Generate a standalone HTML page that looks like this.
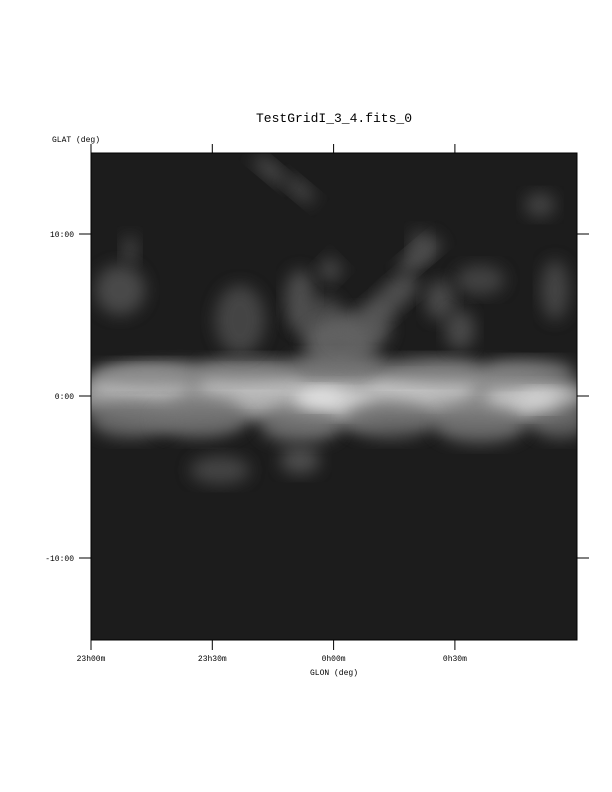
<!DOCTYPE html>
<html><head><meta charset="utf-8"><style>
body{margin:0;background:#fff;width:612px;height:792px;overflow:hidden}
svg{display:block}
text{font-family:"Liberation Mono",monospace;fill:#000}
</style></head><body>
<svg id="chart" width="612" height="792" viewBox="0 0 612 792">
<defs>
<filter id="blur" x="-30%" y="-30%" width="160%" height="160%"><feGaussianBlur stdDeviation="8"/></filter>
<clipPath id="clip"><rect x="91" y="153" width="486" height="487"/></clipPath>
</defs>
<text x="334" y="122" font-size="13" text-anchor="middle">TestGridI_3_4.fits_0</text>
<text x="52" y="142" font-size="8">GLAT (deg)</text>
<text x="334" y="675" font-size="8" text-anchor="middle">GLON (deg)</text>
<rect x="91" y="153" width="486" height="487" fill="#1c1c1c"/>
<g id="emission" clip-path="url(#clip)"></g>
<rect x="91" y="153" width="486" height="487" fill="none" stroke="#000" stroke-width="1"/>
<g id="axes"></g>
</svg>
<script>
// blob data: x, y, radius x, radius y, gray level, rotation (deg)
const blobX=[180,334,480,140,250,334,420,530,150,250,340,430,530,130,200,300,390,480,560,320,540,120,240,300,320,340,360,380,400,420,270,300,420,440,540,555,130,330,460,480,300,220];
const blobY=[396,396,396,385,385,400,390,400,375,370,365,370,372,420,420,425,420,425,420,398,400,290,320,300,320,345,330,310,290,255,170,190,245,300,205,290,250,270,330,280,460,470];
const blobRX=[110,100,110,50,55,45,55,45,60,50,50,50,45,40,45,40,45,45,30,22,20,25,25,15,20,35,30,15,14,10,20,18,10,15,15,14,8,12,15,25,20,30];
const blobRY=[30,30,30,15,15,15,15,15,12,12,12,12,12,18,18,18,18,18,18,10,10,25,35,30,25,25,20,20,20,25,8,8,15,20,12,30,15,12,20,15,14,14];
const blobG=[170,175,170,200,195,220,200,210,130,130,130,130,130,110,110,120,110,115,110,230,215,85,80,90,85,110,100,95,90,95,85,80,80,85,80,80,75,80,85,75,90,80];
const blobRot=[0,0,0,0,0,0,0,0,0,0,0,0,0,0,0,0,0,0,0,0,0,0,0,0,55,0,0,50,50,50,40,40,0,0,0,0,0,45,0,0,0,0];
const tickXLabels=["23h00m","23h30m","0h00m","0h30m"];
const tickXVals=[0,1,2,3];
const tickYLabels=["10:00","0:00","-10:00"];
const tickYVals=[10,0,-10];
const ns="http://www.w3.org/2000/svg";
const em=document.getElementById('emission');
const ax=document.getElementById('axes');
const xs=v=>91+v*121.3;
const ys=v=>396-v*16.2;
for(let i=0;i<blobX.length;i++){
  const e=document.createElementNS(ns,'ellipse');
  
  
  e.setAttribute('cx',blobX[i]);e.setAttribute('cy',blobY[i]);
  e.setAttribute('rx',blobRX[i]);e.setAttribute('ry',blobRY[i]);
  e.setAttribute('transform',`rotate(${blobRot[i]} ${blobX[i]} ${blobY[i]})`);
  const g=blobG[i];
  e.setAttribute('fill',`rgb(${g},${g},${g})`);
  e.setAttribute('opacity','0.8');
  e.setAttribute('filter','url(#blur)');
  em.appendChild(e);
}
function line(x1,y1,x2,y2,name){
  const l=document.createElementNS(ns,'line');
  
  
  l.setAttribute('x1',x1);l.setAttribute('y1',y1);l.setAttribute('x2',x2);l.setAttribute('y2',y2);
  l.setAttribute('stroke','#000');
  ax.appendChild(l);
}
tickXVals.forEach((v,i)=>{
  const x=xs(v);
  line(x,144,x,153,'x-tick-top');
  line(x,640,x,650,'x-tick-bottom');
  const t=document.createElementNS(ns,'text');
  
  
  t.setAttribute('x',x);t.setAttribute('y',661);t.setAttribute('font-size','8');
  t.setAttribute('text-anchor','middle');t.textContent=tickXLabels[i];ax.appendChild(t);
});
tickYVals.forEach((v,i)=>{
  const y=ys(v);
  line(79,y,91,y,'y-tick-left');
  line(577,y,589,y,'y-tick-right');
  const t=document.createElementNS(ns,'text');
  
  
  t.setAttribute('x',74);t.setAttribute('y',y+3);t.setAttribute('font-size','8');
  t.setAttribute('text-anchor','end');t.textContent=tickYLabels[i];ax.appendChild(t);
});
</script>
</body></html>
